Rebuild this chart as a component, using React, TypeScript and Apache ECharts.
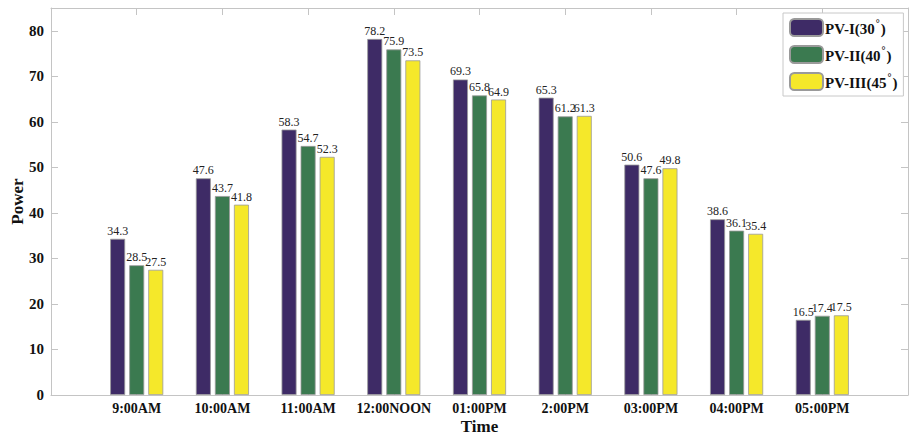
import React, { useEffect, useRef } from "react";
import * as echarts from "echarts";

const categories = ["9:00AM", "10:00AM", "11:00AM", "12:00NOON", "01:00PM", "2:00PM", "03:00PM", "04:00PM", "05:00PM"];
const seriesNames = ["PV-I(30°)", "PV-II(40°)", "PV-III(45°)"];
const pv1 = [34.3, 47.6, 58.3, 78.2, 69.3, 65.3, 50.6, 38.6, 16.5];
const pv2 = [28.5, 43.7, 54.7, 75.9, 65.8, 61.2, 47.6, 36.1, 17.4];
const pv3 = [27.5, 41.8, 52.3, 73.5, 64.9, 61.3, 49.8, 35.4, 17.5];
const colors = ["#3e2b66", "#3b7a50", "#f5e82a"];

const FONT = "'Liberation Serif', 'Times New Roman', serif";

export default function App() {
  const ref = useRef<HTMLDivElement>(null);
  useEffect(() => {
    if (!ref.current) return;
    const chart = echarts.init(ref.current, undefined, { renderer: "svg" });
    const values = [pv1, pv2, pv3];
    const axisLineStyle = { color: "#c4c4c4", width: 1 };
    chart.setOption({
      animation: false,
      backgroundColor: "#fff",
      textStyle: { fontFamily: FONT },
      grid: { left: 51, right: 9, top: 8, bottom: 40, containLabel: false, outerBoundsMode: "none" },
      legend: {
        data: seriesNames,
        orient: "vertical",
        left: 783,
        top: 13,
        padding: [5, 6, 5, 6],
        itemWidth: 33,
        itemHeight: 17,
        itemGap: 8,
        borderColor: "#c8c8c8",
        borderWidth: 1,
        backgroundColor: "#fff",
        formatter: (name: string) => {
          const i = name.indexOf("°");
          return "{a|" + name.slice(0, i) + "}{s|°}{a|" + name.slice(i + 1) + "}";
        },
        textStyle: {
          fontFamily: FONT,
          fontWeight: "bold",
          fontSize: 15,
          color: "#111",
          padding: [0, 0, 0, -3],
          rich: {
            a: { fontFamily: FONT, fontWeight: "bold", fontSize: 15, color: "#111", lineHeight: 18, verticalAlign: "bottom" },
            s: { fontFamily: FONT, fontWeight: "bold", fontSize: 10, color: "#111", lineHeight: 18, verticalAlign: "top", padding: [0, 1, 0, 1] },
          },
        },
      },
      xAxis: [
        {
          type: "value",
          min: 0,
          max: 10,
          interval: 1,
          name: "Time",
          nameLocation: "middle",
          nameGap: 23,
          nameMoveOverlap: false,
          nameTextStyle: { fontFamily: FONT, fontWeight: "bold", fontSize: 17, lineHeight: 16, color: "#111", verticalAlign: "top" },
          axisLine: { show: true, lineStyle: axisLineStyle },
          axisTick: { show: true, inside: true, length: 7, lineStyle: axisLineStyle },
          splitLine: { show: false },
          axisLabel: {
            fontFamily: FONT,
            fontWeight: "bold",
            fontSize: 14,
            lineHeight: 12,
            color: "#111",
            margin: 7,
            showMinLabel: false,
            showMaxLabel: false,
            formatter: (v: number) => categories[Math.round(v) - 1] || "",
          },
        },
        {
          type: "value",
          position: "top",
          min: 0,
          max: 10,
          interval: 1,
          axisLine: { show: true, onZero: false, lineStyle: axisLineStyle },
          axisTick: { show: true, inside: true, length: 7, lineStyle: axisLineStyle },
          splitLine: { show: false },
          axisLabel: { show: false },
        },
      ],
      yAxis: [
        {
          type: "value",
          min: 0,
          max: 85,
          interval: 10,
          name: "Power",
          nameLocation: "middle",
          nameGap: 25,
          nameMoveOverlap: false,
          nameRotate: 90,
          nameTextStyle: { fontFamily: FONT, fontWeight: "bold", fontSize: 17, color: "#111" },
          axisLine: { show: true, lineStyle: axisLineStyle },
          axisTick: { show: true, inside: true, length: 7, lineStyle: axisLineStyle },
          splitLine: { show: false },
          axisLabel: { fontFamily: FONT, fontWeight: "bold", fontSize: 15, color: "#111", margin: 7, showMaxLabel: false },
        },
        {
          type: "value",
          position: "right",
          min: 0,
          max: 85,
          interval: 10,
          axisLine: { show: true, onZero: false, lineStyle: axisLineStyle },
          axisTick: { show: true, inside: true, length: 7, lineStyle: axisLineStyle },
          splitLine: { show: false },
          axisLabel: { show: false },
        },
      ],
      series: values.map((arr, si) => ({
        name: seriesNames[si],
        type: "bar",
        xAxisIndex: 0,
        yAxisIndex: 0,
        barWidth: 15,
        barGap: "27%",
        data: arr.map((v, i) => [i + 1, v]),
        itemStyle: { color: colors[si], borderColor: "#9a9a9a", borderWidth: 0.8 },
        label: {
          show: true,
          position: "top",
          distance: 2,
          fontFamily: FONT,
          fontSize: 12,
          color: "#222",
          formatter: (p: any) => String(p.value[1]),
        },
      })),
    });
    return () => chart.dispose();
  }, []);
  return <div ref={ref} style={{ position: "fixed", left: 0, top: 0, width: 917, height: 435 }} />;
}
